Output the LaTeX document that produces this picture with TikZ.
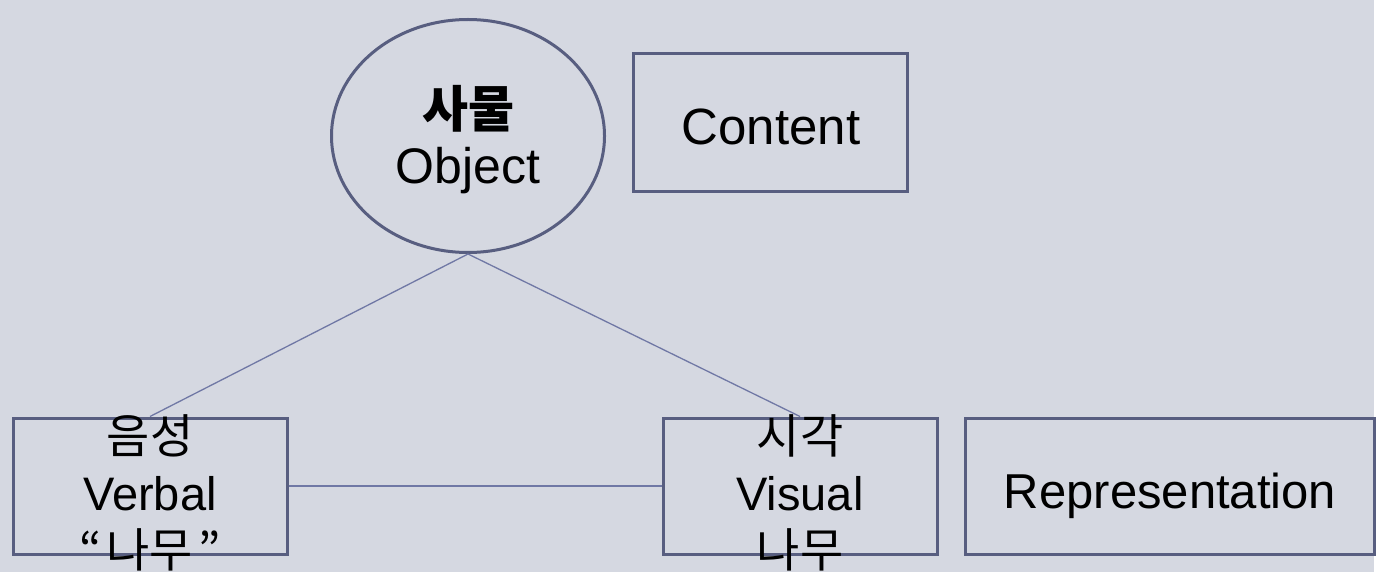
\documentclass[tikz,border=0pt]{standalone}
\usepackage{fontspec}
\setmainfont{Liberation Sans}
\newfontfamily\kr{Noto Sans CJK KR}
\usetikzlibrary{shapes.geometric}
\definecolor{bgcol}{RGB}{213,216,225}
\definecolor{edgecol}{RGB}{88,94,128}
\definecolor{linkcol}{RGB}{112,120,165}
\begin{document}
\begin{tikzpicture}[x=1pt,y=-1pt]

\def\boxw{274pt}
\def\boxh{136pt}
\def\rowy{486}

\tikzset{box/.style = {draw=edgecol, line width=3pt, rectangle, minimum width=\boxw, minimum height=\boxh, inner sep=0pt},
         txt/.style = {align=center, inner sep=0pt},
         link/.style = {draw=linkcol, line width=1.3pt}}

\useasboundingbox (0,0) rectangle (1381,572);
\fill[bgcol] (0,0) rectangle (1374,572);

\node[ellipse, draw=edgecol, line width=3pt, minimum width=273pt, minimum height=233pt, inner sep=0pt] (obj) at (468,136) {};
\node[txt, font=\fontsize{50}{56}\selectfont] (objtxt) at (468,140) {{\kr\bfseries 사물}\\Object};
\node[box, minimum width=274pt, minimum height=138pt] (content) at (770,123) {};
\node[txt, font=\fontsize{51}{56}\selectfont, anchor=base] (contenttxt) at (771,145) {Content};

\node[box] (verbal) at (150,\rowy) {};
\node[txt, font=\fontsize{47}{57}\selectfont] (verbaltxt) at (150,493) {{\kr 음성}\\Verbal\\{\kr “\hspace{5pt}나무\hspace{5pt}”}};
\node[box] (visual) at (800,\rowy) {};
\node[txt, font=\fontsize{47}{57}\selectfont] (visualtxt) at (800,493) {{\kr 시각}\\Visual\\{\kr 나무}};
\node[box, minimum width=409pt] (repr) at (1170,\rowy) {};
\node[txt, font=\fontsize{49}{55}\selectfont, anchor=base] (reprtxt) at (1170,508) {Representation};

\draw[link] (obj.south) -- (verbal.north);
\draw[link] (obj.south) -- (visual.north);
\draw[link] (verbal.east) -- (visual.west);

\end{tikzpicture}
\end{document}
